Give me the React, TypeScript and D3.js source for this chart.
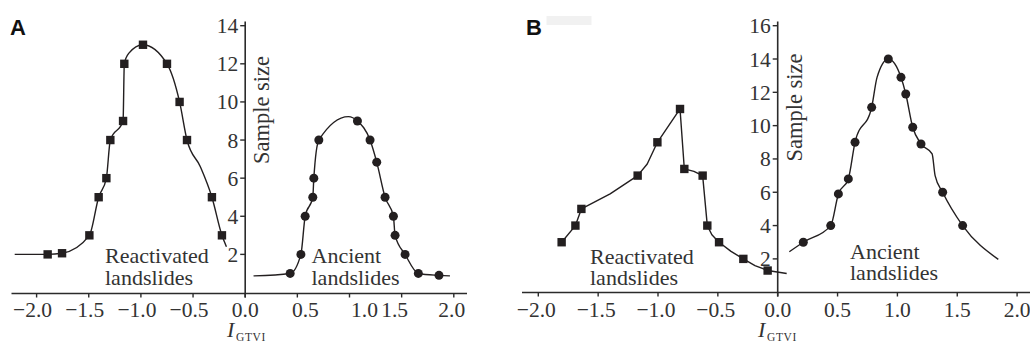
import React from "react";
import * as d3 from "d3";

// ---------- data ----------
// Panel A – reactivated landslides (square markers): [I_GTVI, sample size]
const reactivatedA: [number, number][] = [
  [-1.894, 2], [-1.756, 2.06], [-1.494, 3], [-1.405, 5], [-1.331, 6], [-1.293, 8],
  [-1.171, 9], [-1.159, 12], [-0.98, 13], [-0.75, 12], [-0.629, 10], [-0.558, 8],
  [-0.319, 5], [-0.223, 3],
];
// extra points on the drawn curve (tails / bends) without markers
const reactivatedACurve: [number, number][] = [[-2.21, 2], [-1.117, 12.55], [-0.43, 6.6], [-0.18, 2.4]];

// Panel A – ancient landslides (circle markers)
const ancientA: [number, number][] = [
  [0.431, 1], [0.534, 2], [0.575, 4], [0.648, 5], [0.658, 6], [0.706, 8],
  [1.076, 9], [1.197, 8], [1.261, 6.84], [1.341, 5], [1.421, 4], [1.437, 3],
  [1.533, 2], [1.66, 1], [1.858, 0.9],
];
const ancientACurve: [number, number][] = [[0.08, 0.87], [0.99, 9.23], [1.963, 0.87]];

// Panel B – reactivated landslides
const reactivatedB: [number, number][] = [
  [-1.805, 3], [-1.69, 4], [-1.64, 5], [-1.17, 7], [-1.005, 9], [-0.816, 11],
  [-0.78, 7.4], [-0.627, 7], [-0.588, 4], [-0.49, 3], [-0.287, 2], [-0.084, 1.3],
];
const reactivatedBCurve: [number, number][] = [
  [-1.4, 5.9], [-1.09, 7.7], [-0.7, 7.25], [-0.55, 3.45], [-0.39, 2.45], [-0.19, 1.6], [0.075, 1.12],
];

// Panel B – ancient landslides
const ancientB: [number, number][] = [
  [0.214, 3], [0.443, 4], [0.507, 5.9], [0.59, 6.8], [0.646, 9], [0.785, 11.1],
  [0.924, 14], [1.03, 12.9], [1.07, 11.9], [1.128, 9.9], [1.197, 8.9], [1.378, 6],
  [1.545, 4],
];
const ancientBCurve: [number, number][] = [[0.097, 2.43], [0.83, 12.9], [1.29, 8.3], [1.315, 7.0], [1.843, 1.97]];

const xTicks = [-2, -1.5, -1, -0.5, 0, 0.5, 1, 1.5, 2];
const yTicksA = [2, 4, 6, 8, 10, 12, 14];
const yTicksB = [2, 4, 6, 8, 10, 12, 14, 16];
const panelLabels = ["A", "B"];
const yTitle = "Sample size";
const groupNames = [["Reactivated", "landslides"], ["Ancient", "landslides"]];

// ---------- styling / layout ----------
const INK = "#231f20";
const AXIS = "#2b2b2b";
const SERIF = "Liberation Serif";
const SANS = "Liberation Sans";

const fmt = (d: number) => (d < 0 ? "\u2212" : "") + Math.abs(d).toFixed(1);

type Panel = {
  label: string;
  x0: number; x1: number;
  y0: number; yTop: number; yMax: number;
  axisLeft: number; axisRight: number; axisTop: number;
  yTicks: number[];
  nudge: number[];
  react: [number, number][]; reactCurve: [number, number][]; reactSmooth: boolean;
  anc: [number, number][]; ancCurve: [number, number][];
  reactText: [number, number, number];
  ancText: [number, number, number];
  yTitlePos: [number, number];
  xTitleX: number;
  labelX: number;
};

const panels: Panel[] = [
  {
    label: panelLabels[0], x0: 36.6, x1: 453.8, y0: 292.5, yTop: 25.7, yMax: 14,
    axisLeft: 11.5, axisRight: 467, axisTop: 21.5, yTicks: yTicksA,
    nudge: [-4, -4, -4, -4, 0, 8, 15, -7, -2],
    react: reactivatedA, reactCurve: reactivatedACurve, reactSmooth: true,
    anc: ancientA, ancCurve: ancientACurve,
    reactText: [105, 263, 285], ancText: [311.5, 263, 285],
    yTitlePos: [268.5, 110], xTitleX: 227, labelX: 10,
  },
  {
    label: panelLabels[1], x0: 538.3, x1: 1017.1, y0: 292.2, yTop: 25.7, yMax: 16,
    axisLeft: 522, axisRight: 1030, axisTop: 21.5, yTicks: yTicksB,
    nudge: [-2, -2, -2, -2, 0, 0, 0, 0, 0],
    react: reactivatedB, reactCurve: reactivatedBCurve, reactSmooth: false,
    anc: ancientB, ancCurve: ancientBCurve,
    reactText: [590, 264, 285], ancText: [850, 259, 280],
    yTitlePos: [801.5, 107.5], xTitleX: 758, labelX: 526,
  },
];

function PanelView({ p }: { p: Panel }) {
  const x = d3.scaleLinear().domain([-2, 2]).range([p.x0, p.x1]);
  const y = d3.scaleLinear().domain([0, p.yMax]).range([p.y0, p.yTop]);
  const mk = (smooth: boolean) =>
    d3
      .line<[number, number]>()
      .x((d) => x(d[0]))
      .y((d) => y(d[1]))
      .curve(smooth ? d3.curveMonotoneX : d3.curveLinear);
  const merge = (a: [number, number][], b: [number, number][]) =>
    [...a, ...b].sort((u, v) => u[0] - v[0]);
  const ax = x(0);
  const base = Math.round(p.y0) + 0.5;
  const serif = { fontFamily: SERIF };
  return (
    <g>
      <line x1={p.axisLeft} x2={p.axisRight} y1={base} y2={base} stroke={AXIS} strokeWidth={1.6} />
      <line x1={ax} x2={ax} y1={p.axisTop} y2={base + 4} stroke={AXIS} strokeWidth={1.6} />
      {xTicks.map((t, i) => (
        <g key={t}>
          <line x1={x(t)} x2={x(t)} y1={base} y2={base + 4} stroke={AXIS} strokeWidth={1.4} />
          <text x={x(t) + p.nudge[i]} y={316.5} textAnchor="middle" style={serif} fontSize={21.5} fill="#333">
            {fmt(t)}
          </text>
        </g>
      ))}
      {p.yTicks.map((t) => (
        <g key={t}>
          <line x1={ax - 5} x2={ax} y1={y(t)} y2={y(t)} stroke={AXIS} strokeWidth={1.4} />
          <text x={ax - 7} y={y(t)} dy="0.35em" textAnchor="end" style={serif} fontSize={21.5} fill="#333">
            {t}
          </text>
        </g>
      ))}
      <text
        transform={`translate(${p.yTitlePos[0]},${p.yTitlePos[1]}) rotate(-90)`}
        textAnchor="middle" style={serif} fontSize={22.5} fill="#333"
      >
        {yTitle}
      </text>
      <text x={p.xTitleX} y={337} style={{ fontFamily: SERIF, fontStyle: "italic" }} fontSize={22} fill="#333">I</text>
      <text x={p.xTitleX + 9} y={341} style={serif} fontSize={11.5} letterSpacing={0.6} fill="#333">GTVI</text>
      <text x={p.labelX} y={35} style={{ fontFamily: SANS, fontWeight: "bold" }} fontSize={22} fill="#111">{p.label}</text>
      <path d={mk(p.reactSmooth)(merge(p.react, p.reactCurve)) || ""} fill="none" stroke={INK} strokeWidth={1.4} strokeLinejoin="round" />
      <path d={mk(true)(merge(p.anc, p.ancCurve)) || ""} fill="none" stroke={INK} strokeWidth={1.4} />
      {p.react.map((d, i) => (
        <rect key={i} x={x(d[0]) - 4.2} y={y(d[1]) - 4.2} width={8.4} height={8.4} fill={INK} />
      ))}
      {p.anc.map((d, i) => (
        <circle key={i} cx={x(d[0])} cy={y(d[1])} r={4.5} fill={INK} />
      ))}
      <text style={serif} fontSize={22} fill="#333">
        <tspan x={p.reactText[0]} y={p.reactText[1]}>{groupNames[0][0]}</tspan>
        <tspan x={p.reactText[0]} y={p.reactText[2]}>{groupNames[0][1]}</tspan>
      </text>
      <text style={serif} fontSize={22} fill="#333">
        <tspan x={p.ancText[0]} y={p.ancText[1]}>{groupNames[1][0]}</tspan>
        <tspan x={p.ancText[0]} y={p.ancText[2]}>{groupNames[1][1]}</tspan>
      </text>
    </g>
  );
}

export default function App() {
  return (
    <svg
      width={1030}
      height={345}
      style={{ position: "absolute", left: 0, top: 0, background: "#fff" }}
    >
      <rect x={0} y={0} width={1030} height={345} fill="#fff" />
      <rect x={546.5} y={16} width={45} height={9} fill="#f1f1f1" />
      {panels.map((p) => (
        <PanelView key={p.label} p={p} />
      ))}
    </svg>
  );
}
